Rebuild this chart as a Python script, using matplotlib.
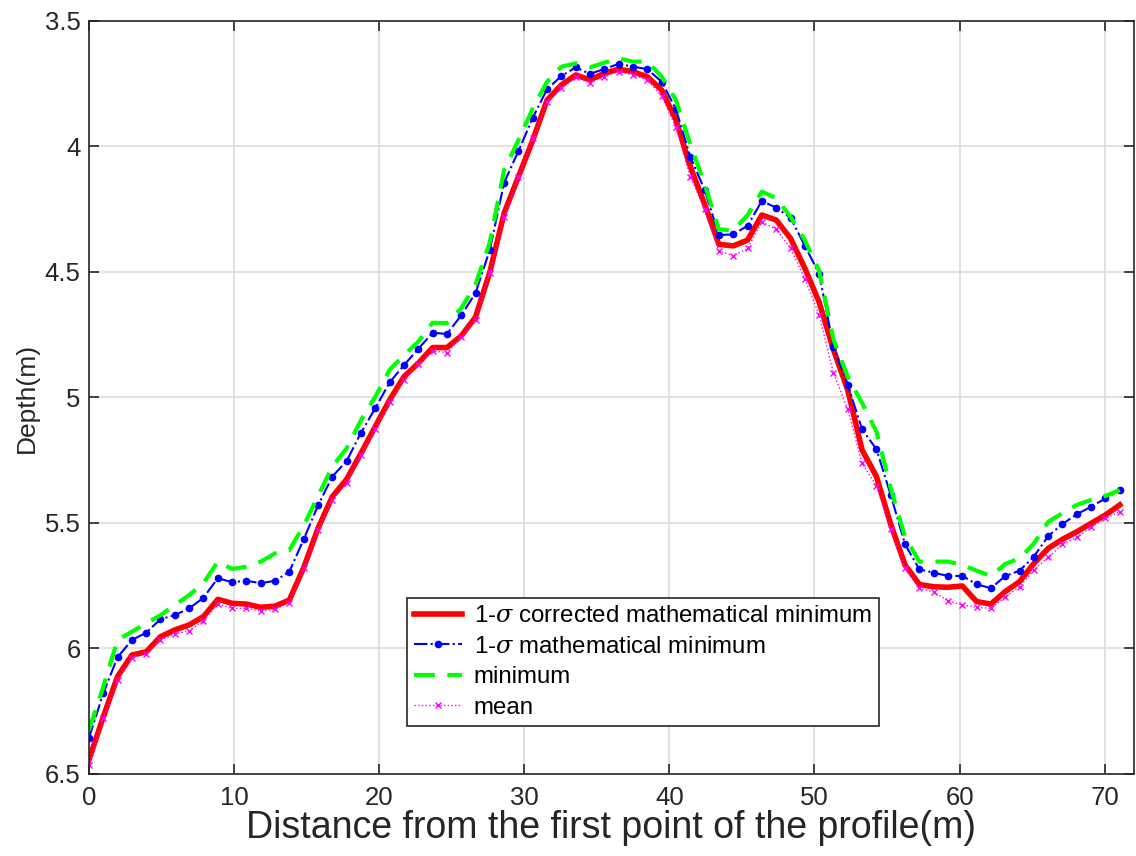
import numpy as np
import matplotlib
matplotlib.use("Agg")
import matplotlib.pyplot as plt
from matplotlib.ticker import FuncFormatter

plt.rcParams['font.family'] = ['Liberation Sans', 'DejaVu Sans']
plt.rcParams['mathtext.fontset'] = 'dejavuserif'

# distance along the profile (m), about 0.987 m between points
distance = [0.00, 0.99, 1.97, 2.96, 3.95, 4.93, 5.92, 6.91, 7.89, 8.88,
            9.87, 10.85, 11.84, 12.83, 13.81, 14.80, 15.79, 16.77, 17.76, 18.75,
            19.73, 20.72, 21.71, 22.69, 23.68, 24.67, 25.65, 26.64, 27.63, 28.61,
            29.60, 30.59, 31.57, 32.56, 33.55, 34.53, 35.52, 36.51, 37.49, 38.48,
            39.47, 40.45, 41.44, 42.43, 43.41, 44.40, 45.39, 46.37, 47.36, 48.35,
            49.33, 50.32, 51.31, 52.29, 53.28, 54.27, 55.25, 56.24, 57.23, 58.21,
            59.20, 60.19, 61.17, 62.16, 63.15, 64.13, 65.12, 66.11, 67.09, 68.08,
            69.07, 70.05, 71.04]

corrected_min = [6.444, 6.272, 6.112, 6.026, 6.013, 5.953, 5.926, 5.906, 5.873, 5.804,
                 5.820, 5.823, 5.836, 5.831, 5.807, 5.678, 5.521, 5.395, 5.326, 5.222,
                 5.116, 5.010, 4.917, 4.864, 4.801, 4.801, 4.755, 4.680, 4.500, 4.266,
                 4.120, 3.974, 3.815, 3.755, 3.715, 3.735, 3.708, 3.692, 3.702, 3.722,
                 3.775, 3.894, 4.080, 4.230, 4.390, 4.396, 4.373, 4.273, 4.293, 4.366,
                 4.485, 4.620, 4.810, 4.970, 5.209, 5.315, 5.505, 5.667, 5.745, 5.754,
                 5.756, 5.751, 5.813, 5.823, 5.773, 5.734, 5.661, 5.601, 5.565, 5.535,
                 5.501, 5.468, 5.428]

math_min = [6.357, 6.178, 6.035, 5.966, 5.937, 5.883, 5.867, 5.840, 5.798, 5.720,
            5.736, 5.730, 5.740, 5.730, 5.694, 5.565, 5.430, 5.315, 5.253, 5.140,
            5.043, 4.940, 4.871, 4.807, 4.742, 4.747, 4.673, 4.584, 4.411, 4.144,
            4.018, 3.885, 3.772, 3.719, 3.685, 3.711, 3.691, 3.671, 3.682, 3.692,
            3.742, 3.852, 4.041, 4.173, 4.353, 4.350, 4.316, 4.217, 4.244, 4.284,
            4.395, 4.507, 4.798, 4.950, 5.127, 5.206, 5.388, 5.585, 5.685, 5.698,
            5.711, 5.711, 5.744, 5.760, 5.711, 5.690, 5.634, 5.552, 5.504, 5.465,
            5.435, 5.402, 5.369]

minimum = [6.325, 6.152, 5.966, 5.933, 5.900, 5.867, 5.827, 5.787, 5.740, 5.654,
           5.683, 5.674, 5.654, 5.621, 5.608, 5.510, 5.392, 5.276, 5.202, 5.090,
           4.997, 4.890, 4.831, 4.778, 4.702, 4.704, 4.645, 4.550, 4.380, 4.094,
           3.974, 3.848, 3.742, 3.682, 3.669, 3.685, 3.666, 3.649, 3.662, 3.662,
           3.722, 3.815, 3.991, 4.150, 4.330, 4.335, 4.273, 4.180, 4.206, 4.280,
           4.373, 4.495, 4.770, 4.917, 5.022, 5.136, 5.360, 5.555, 5.654, 5.654,
           5.654, 5.667, 5.690, 5.711, 5.663, 5.641, 5.582, 5.495, 5.461, 5.428,
           5.408, 5.392, 5.369]

mean = [6.464, 6.277, 6.125, 6.039, 6.022, 5.966, 5.943, 5.929, 5.889, 5.823,
        5.840, 5.840, 5.851, 5.844, 5.817, 5.681, 5.528, 5.410, 5.342, 5.229,
        5.127, 5.017, 4.930, 4.868, 4.815, 4.821, 4.760, 4.691, 4.503, 4.280,
        4.120, 3.967, 3.821, 3.768, 3.724, 3.746, 3.722, 3.702, 3.715, 3.735,
        3.799, 3.924, 4.120, 4.250, 4.415, 4.436, 4.406, 4.300, 4.330, 4.406,
        4.527, 4.671, 4.904, 5.047, 5.262, 5.353, 5.525, 5.681, 5.760, 5.775,
        5.810, 5.827, 5.836, 5.840, 5.794, 5.754, 5.687, 5.637, 5.585, 5.557,
        5.517, 5.481, 5.455]

fig = plt.figure(figsize=(11.36, 8.56), dpi=100)
ax = fig.add_axes([0.0783, 0.0958, 0.9197, 0.8797])

ax.plot(distance, corrected_min, color='red', lw=4,
        label='1-$\\sigma$ corrected mathematical minimum')
ax.plot(distance, math_min, color='blue', ls='-.', lw=1.5, marker='o', ms=4.5,
        label='1-$\\sigma$ mathematical minimum')
ax.plot(distance, minimum, color=(0, 1, 0), ls=(0, (5, 3)), lw=3, label='minimum')
ax.plot(distance, mean, color='magenta', ls=':', lw=1, marker='x', ms=5, mew=1,
        label='mean')

ax.set_xlim(0, 72)
ax.set_ylim(6.5, 3.5)
ax.set_xticks(range(0, 71, 10))
ax.set_yticks(np.arange(3.5, 6.51, 0.5))
ax.yaxis.set_major_formatter(FuncFormatter(lambda v, p: '%g' % v))
ax.grid(True, color='#dcdcdc', lw=1.2)
ax.set_axisbelow(True)

dark = '#262626'
for s in ax.spines.values():
    s.set_color(dark)
    s.set_linewidth(1.2)
ax.tick_params(direction='in', top=True, right=True, length=7, width=1.2,
               colors=dark, labelsize=18.5, labelcolor=dark)
ax.tick_params(axis='x', pad=9)
ax.tick_params(axis='y', pad=6)

ax.set_xlabel('Distance from the first point of the profile(m)', fontsize=27,
              color=dark, labelpad=0)
ax.set_ylabel('Depth(m)', fontsize=19, color=dark)

leg = ax.legend(loc='lower left', bbox_to_anchor=(0.304, 0.064), fontsize=17.3,
                fancybox=False, framealpha=1, edgecolor=dark, handlelength=2,
                borderpad=0.3, labelspacing=0.35, handletextpad=0.5,
                borderaxespad=0)
leg.get_frame().set_linewidth(1.2)

fig.savefig('out.png', dpi=100)
